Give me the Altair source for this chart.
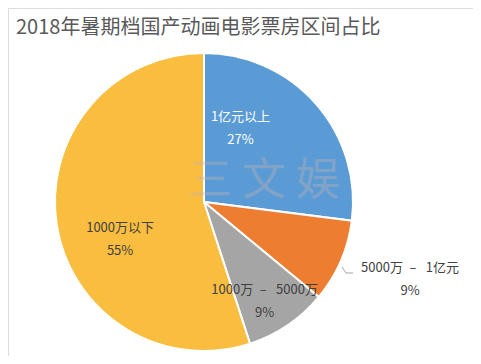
import altair as alt
import pandas as pd
import math

title_text = "2018年暑期档国产动画电影票房区间占比"
categories = ["1亿元以上", "5000万 – 1亿元", "1000万 – 5000万", "1000万以下"]
shares = [27, 9, 9, 55]
colors = ["#5B9BD5", "#ED7D31", "#A5A5A5", "#F9BD3F"]
label_colors = ["#FFFFFF", "#404040", "#404040", "#404040"]
label_texts = ["1亿元以上", "5000万\u2002– \u20021亿元", "1000万\u2002– \u20025000万", "1000万以下"]

df = pd.DataFrame({
    "cat": categories,
    "share": shares,
    "order": list(range(len(categories))),
    "label": [f"{c}\n{s}%" for c, s in zip(label_texts, shares)],
    "lc": label_colors,
})

W, H = 465, 348
CX, CY, R = 196, 194, 149
FONT = "Noto Sans CJK SC"

pie = alt.Chart(df).mark_arc(outerRadius=R, stroke="white", strokeWidth=2).encode(
    theta=alt.Theta("share:Q", stack=True),
    order=alt.Order("order:Q"),
    color=alt.Color("cat:N", scale=alt.Scale(domain=categories, range=colors), legend=None),
    x=alt.value(CX), y=alt.value(CY),
)

lab_base = alt.Chart(df).transform_window(
    cum="sum(share)", sort=[alt.SortField("order")]
).transform_joinaggregate(total="sum(share)").transform_calculate(
    mid="(datum.cum - datum.share / 2) / datum.total"
)

# watermark
wm = alt.Chart(df).transform_filter(alt.datum.order == 0).mark_text(
    text="三 文 娱", font=FONT, fontSize=44, color="#C8B4B0", opacity=0.35,
    align="center", baseline="middle"
).encode(x=alt.value(256), y=alt.value(174))

def lab(i, radius, dx, dy):
    return lab_base.transform_filter(alt.datum.order == i).mark_text(
        radius=radius, dx=dx, dy=dy, lineBreak="\n", font=FONT, fontSize=13,
        align="center", baseline="middle", lineHeight=23,
    ).encode(
        theta=alt.Theta("mid:Q", stack=None,
                        scale=alt.Scale(domain=[0, 1], range=[0, 2 * math.pi])),
        text="label:N",
        color=alt.Color("lc:N", scale=None),
        x=alt.value(CX), y=alt.value(CY),
    )

labels = alt.layer(
    lab(0, 90, -31, -25),
    lab(1, 194, 28, -11),
    lab(2, 90, 10, 14),
    lab(3, 90, 5, 12),
)

leader = alt.Chart(df).transform_filter(alt.datum.order == 1).mark_rule(
    color="#A6A6A6", strokeWidth=1
).encode(x=alt.value(334), x2=alt.value(338), y=alt.value(259), y2=alt.value(265))
leader2 = alt.Chart(df).transform_filter(alt.datum.order == 1).mark_rule(
    color="#A6A6A6", strokeWidth=1
).encode(x=alt.value(338), x2=alt.value(345), y=alt.value(265))

chart = alt.layer(pie, wm, labels, leader, leader2).resolve_scale(
    theta="independent"
).properties(
    width=W, height=H,
    padding=0,
    autosize=alt.AutoSizeParams(type="none"),
    title=alt.TitleParams(
        title_text, anchor="start", font=FONT, fontSize=20, fontWeight="normal",
        color="#595959", offset=-30, dx=8, dy=0
    ),
).configure_view(stroke=None).configure(background="white")

chart.save("out.html", embed_options={"renderer": "svg", "actions": False})
